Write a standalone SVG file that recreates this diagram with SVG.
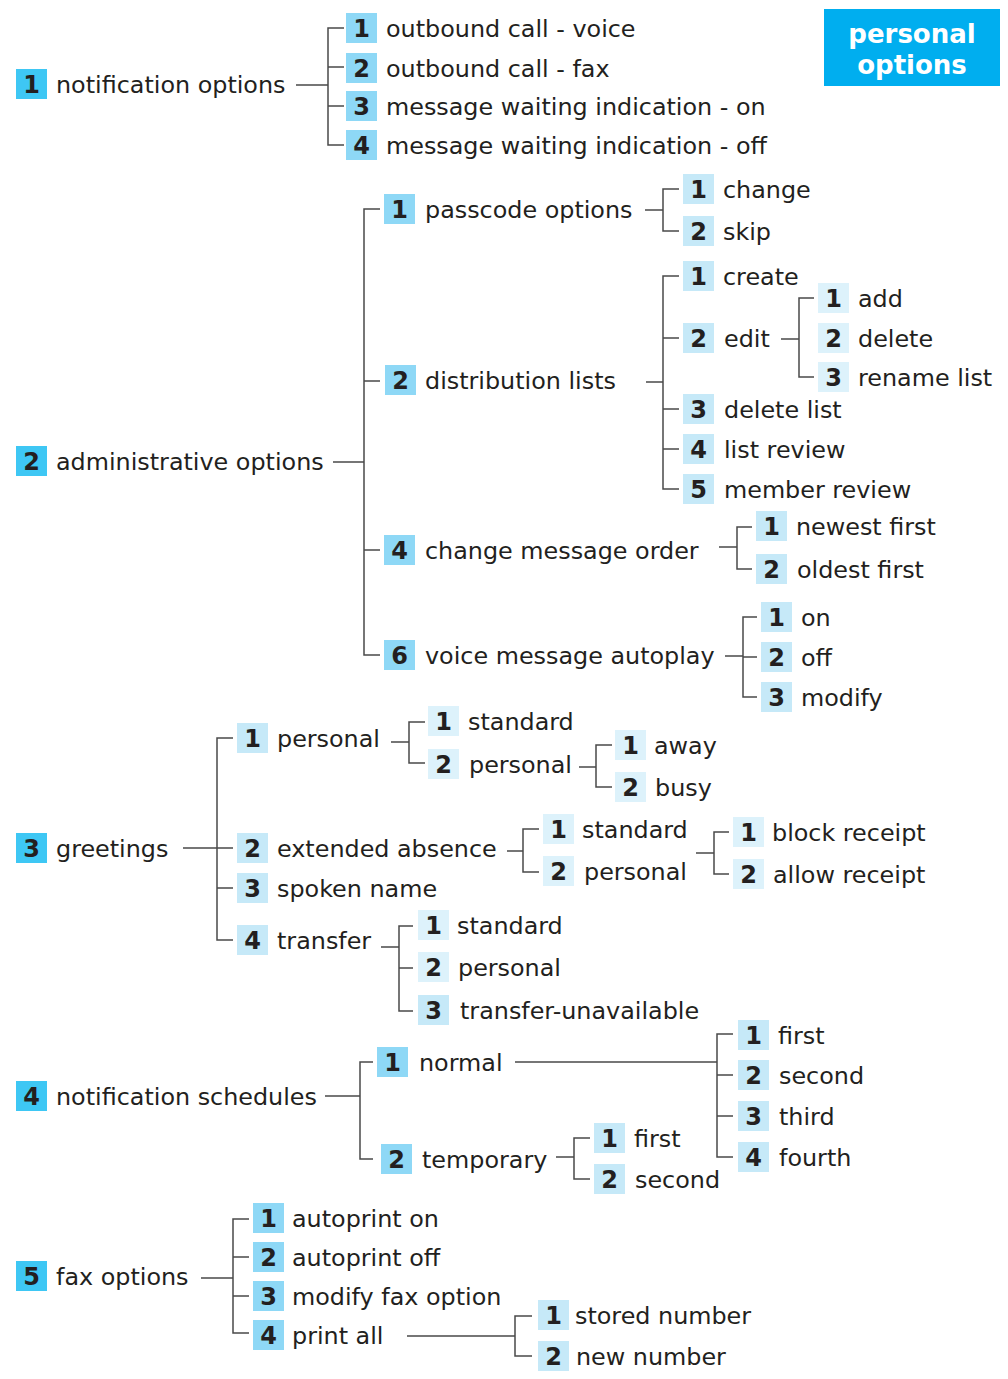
<svg xmlns="http://www.w3.org/2000/svg" width="1008" height="1379" viewBox="0 0 1008 1379">
<style>
.lbl{font-family:"DejaVu Sans","Verdana",sans-serif;font-size:23.85px;fill:#231f20}
.num{font-family:"DejaVu Sans","Verdana",sans-serif;font-size:24px;font-weight:bold;fill:#231f20;text-anchor:middle}
.b1{fill:#3ec7f4}
.b2{fill:#8ed8f6}
.b3{fill:#c6e9f8}
.b4{fill:#ddf2fb}
.conn path{fill:none;stroke:#4a4a4a;stroke-width:1.5}
.hdr{font-family:"DejaVu Sans","Verdana",sans-serif;font-size:26px;font-weight:bold;fill:#ffffff;text-anchor:middle}
</style>
<defs>
<rect id="bdg" width="31" height="30"/>
</defs>
<rect width="1008" height="1379" fill="#ffffff"/>

<g id="header">
<rect x="824" y="9" width="176" height="77" fill="#00aeef"/>
<text class="hdr" x="912" y="43">personal</text>
<text class="hdr" x="912" y="74">options</text>
</g>

<g class="conn" id="connectors">
<path d="M296 85H328M344 28H328V145H344M328 67H344M328 106H344"/>
<path d="M333 462H364M380 209H364V655H380M364 381H380M364 550H380"/>
<path d="M645 210H663M679 189H663V231H679"/>
<path d="M646 382H663M679 276H663V489H679M663 338H679M663 409H679M663 449H679"/>
<path d="M781 339H799M814 298H799V377H814"/>
<path d="M719 547H737M752 527H737V569H752"/>
<path d="M725 656H743M757 617H743V697H757M743 657H757"/>
<path d="M183 848H217M233 738H217V940H233M217 848H233M217 888H233"/>
<path d="M391 742H409M425 722H409V763H425"/>
<path d="M579 767H596M612 745H596V787H612"/>
<path d="M507 851H523M539 829H523V872H539"/>
<path d="M696 853H714M729 832H714V874H729"/>
<path d="M381 947H399M413 926H399V1011H413M399 968H413"/>
<path d="M325 1096H360M373 1062H360V1159H373"/>
<path d="M515 1062H717M733 1034H717V1157H733M717 1075H733M717 1116H733"/>
<path d="M556 1157H574M590 1138H574V1179H590"/>
<path d="M201 1278H233M249 1219H233V1333H249M233 1257H249M233 1296H249"/>
<path d="M407 1336H515M532 1316H515V1356H532"/>
</g>

<!-- root nodes -->
<g id="n1"><use href="#bdg" class="b1" x="16" y="69"/><text class="num" x="31.5" y="93">1</text><text class="lbl" x="56" y="93">notification options</text></g>
<g id="n2"><use href="#bdg" class="b1" x="16" y="446"/><text class="num" x="31.5" y="470">2</text><text class="lbl" x="56" y="470">administrative options</text></g>
<g id="n3"><use href="#bdg" class="b1" x="16" y="833"/><text class="num" x="31.5" y="857">3</text><text class="lbl" x="56" y="857">greetings</text></g>
<g id="n4"><use href="#bdg" class="b1" x="16" y="1081"/><text class="num" x="31.5" y="1105">4</text><text class="lbl" x="56" y="1105">notification schedules</text></g>
<g id="n5"><use href="#bdg" class="b1" x="16" y="1261"/><text class="num" x="31.5" y="1285">5</text><text class="lbl" x="56" y="1285">fax options</text></g>

<!-- notification options children -->
<g id="n1-1"><use href="#bdg" class="b2" x="346" y="13"/><text class="num" x="361.5" y="37">1</text><text class="lbl" x="386" y="37">outbound call - voice</text></g>
<g id="n1-2"><use href="#bdg" class="b2" x="346" y="53"/><text class="num" x="361.5" y="77">2</text><text class="lbl" x="386" y="77">outbound call - fax</text></g>
<g id="n1-3"><use href="#bdg" class="b2" x="346" y="91"/><text class="num" x="361.5" y="115">3</text><text class="lbl" x="386" y="115">message waiting indication - on</text></g>
<g id="n1-4"><use href="#bdg" class="b2" x="346" y="130"/><text class="num" x="361.5" y="154">4</text><text class="lbl" x="386" y="154">message waiting indication - off</text></g>

<!-- administrative options children -->
<g id="n2-1"><use href="#bdg" class="b2" x="384" y="194"/><text class="num" x="399.5" y="218">1</text><text class="lbl" x="425" y="218">passcode options</text></g>
<g id="n2-1-1"><use href="#bdg" class="b3" x="683" y="174"/><text class="num" x="698.5" y="198">1</text><text class="lbl" x="723" y="198">change</text></g>
<g id="n2-1-2"><use href="#bdg" class="b3" x="683" y="216"/><text class="num" x="698.5" y="240">2</text><text class="lbl" x="723" y="240">skip</text></g>

<g id="n2-2"><use href="#bdg" class="b2" x="385" y="365"/><text class="num" x="400.5" y="389">2</text><text class="lbl" x="425" y="389">distribution lists</text></g>
<g id="n2-2-1"><use href="#bdg" class="b3" x="683" y="261"/><text class="num" x="698.5" y="285">1</text><text class="lbl" x="723" y="285">create</text></g>
<g id="n2-2-2"><use href="#bdg" class="b3" x="683" y="323"/><text class="num" x="698.5" y="347">2</text><text class="lbl" x="724" y="347">edit</text></g>
<g id="n2-2-2-1"><use href="#bdg" class="b4" x="818" y="283"/><text class="num" x="833.5" y="307">1</text><text class="lbl" x="858" y="307">add</text></g>
<g id="n2-2-2-2"><use href="#bdg" class="b4" x="818" y="323"/><text class="num" x="833.5" y="347">2</text><text class="lbl" x="858" y="347">delete</text></g>
<g id="n2-2-2-3"><use href="#bdg" class="b4" x="818" y="362"/><text class="num" x="833.5" y="386">3</text><text class="lbl" x="858" y="386">rename list</text></g>
<g id="n2-2-3"><use href="#bdg" class="b3" x="683" y="394"/><text class="num" x="698.5" y="418">3</text><text class="lbl" x="724" y="418">delete list</text></g>
<g id="n2-2-4"><use href="#bdg" class="b3" x="683" y="434"/><text class="num" x="698.5" y="458">4</text><text class="lbl" x="724" y="458">list review</text></g>
<g id="n2-2-5"><use href="#bdg" class="b3" x="683" y="474"/><text class="num" x="698.5" y="498">5</text><text class="lbl" x="724" y="498">member review</text></g>

<g id="n2-4"><use href="#bdg" class="b2" x="384" y="535"/><text class="num" x="399.5" y="559">4</text><text class="lbl" x="425" y="559">change message order</text></g>
<g id="n2-4-1"><use href="#bdg" class="b3" x="756" y="511"/><text class="num" x="771.5" y="535">1</text><text class="lbl" x="796" y="535">newest first</text></g>
<g id="n2-4-2"><use href="#bdg" class="b3" x="756" y="554"/><text class="num" x="771.5" y="578">2</text><text class="lbl" x="797" y="578">oldest first</text></g>

<g id="n2-6"><use href="#bdg" class="b2" x="384" y="640"/><text class="num" x="399.5" y="664">6</text><text class="lbl" x="425" y="664">voice message autoplay</text></g>
<g id="n2-6-1"><use href="#bdg" class="b3" x="761" y="602"/><text class="num" x="776.5" y="626">1</text><text class="lbl" x="801" y="626">on</text></g>
<g id="n2-6-2"><use href="#bdg" class="b3" x="761" y="642"/><text class="num" x="776.5" y="666">2</text><text class="lbl" x="801" y="666">off</text></g>
<g id="n2-6-3"><use href="#bdg" class="b3" x="761" y="682"/><text class="num" x="776.5" y="706">3</text><text class="lbl" x="801" y="706">modify</text></g>

<!-- greetings children -->
<g id="n3-1"><use href="#bdg" class="b3" x="237" y="723"/><text class="num" x="252.5" y="747">1</text><text class="lbl" x="277" y="747">personal</text></g>
<g id="n3-1-1"><use href="#bdg" class="b4" x="428" y="706"/><text class="num" x="443.5" y="730">1</text><text class="lbl" x="468" y="730">standard</text></g>
<g id="n3-1-2"><use href="#bdg" class="b4" x="428" y="749"/><text class="num" x="443.5" y="773">2</text><text class="lbl" x="469" y="773">personal</text></g>
<g id="n3-1-2-1"><use href="#bdg" class="b4" x="615" y="730"/><text class="num" x="630.5" y="754">1</text><text class="lbl" x="654" y="754">away</text></g>
<g id="n3-1-2-2"><use href="#bdg" class="b4" x="615" y="772"/><text class="num" x="630.5" y="796">2</text><text class="lbl" x="655" y="796">busy</text></g>

<g id="n3-2"><use href="#bdg" class="b3" x="237" y="833"/><text class="num" x="252.5" y="857">2</text><text class="lbl" x="277" y="857">extended absence</text></g>
<g id="n3-2-1"><use href="#bdg" class="b4" x="543" y="814"/><text class="num" x="558.5" y="838">1</text><text class="lbl" x="582" y="838">standard</text></g>
<g id="n3-2-2"><use href="#bdg" class="b4" x="543" y="856"/><text class="num" x="558.5" y="880">2</text><text class="lbl" x="584" y="880">personal</text></g>
<g id="n3-2-2-1"><use href="#bdg" class="b4" x="733" y="817"/><text class="num" x="748.5" y="841">1</text><text class="lbl" x="772" y="841">block receipt</text></g>
<g id="n3-2-2-2"><use href="#bdg" class="b4" x="733" y="859"/><text class="num" x="748.5" y="883">2</text><text class="lbl" x="773" y="883">allow receipt</text></g>

<g id="n3-3"><use href="#bdg" class="b3" x="237" y="873"/><text class="num" x="252.5" y="897">3</text><text class="lbl" x="277" y="897">spoken name</text></g>

<g id="n3-4"><use href="#bdg" class="b3" x="237" y="925"/><text class="num" x="252.5" y="949">4</text><text class="lbl" x="277" y="949">transfer</text></g>
<g id="n3-4-1"><use href="#bdg" class="b4" x="418" y="910"/><text class="num" x="433.5" y="934">1</text><text class="lbl" x="457" y="934">standard</text></g>
<g id="n3-4-2"><use href="#bdg" class="b4" x="418" y="952"/><text class="num" x="433.5" y="976">2</text><text class="lbl" x="458" y="976">personal</text></g>
<g id="n3-4-3"><use href="#bdg" class="b3" x="418" y="995"/><text class="num" x="433.5" y="1019">3</text><text class="lbl" x="460" y="1019">transfer-unavailable</text></g>

<!-- notification schedules children -->
<g id="n4-1"><use href="#bdg" class="b2" x="377" y="1047"/><text class="num" x="392.5" y="1071">1</text><text class="lbl" x="419" y="1071">normal</text></g>
<g id="n4-1-1"><use href="#bdg" class="b3" x="738" y="1020"/><text class="num" x="753.5" y="1044">1</text><text class="lbl" x="778" y="1044">first</text></g>
<g id="n4-1-2"><use href="#bdg" class="b3" x="738" y="1060"/><text class="num" x="753.5" y="1084">2</text><text class="lbl" x="779" y="1084">second</text></g>
<g id="n4-1-3"><use href="#bdg" class="b3" x="738" y="1101"/><text class="num" x="753.5" y="1125">3</text><text class="lbl" x="779" y="1125">third</text></g>
<g id="n4-1-4"><use href="#bdg" class="b3" x="738" y="1142"/><text class="num" x="753.5" y="1166">4</text><text class="lbl" x="779" y="1166">fourth</text></g>

<g id="n4-2"><use href="#bdg" class="b2" x="381" y="1144"/><text class="num" x="396.5" y="1168">2</text><text class="lbl" x="422" y="1168">temporary</text></g>
<g id="n4-2-1"><use href="#bdg" class="b3" x="594" y="1123"/><text class="num" x="609.5" y="1147">1</text><text class="lbl" x="634" y="1147">first</text></g>
<g id="n4-2-2"><use href="#bdg" class="b3" x="594" y="1164"/><text class="num" x="609.5" y="1188">2</text><text class="lbl" x="635" y="1188">second</text></g>

<!-- fax options children -->
<g id="n5-1"><use href="#bdg" class="b2" x="253" y="1203"/><text class="num" x="268.5" y="1227">1</text><text class="lbl" x="292" y="1227">autoprint on</text></g>
<g id="n5-2"><use href="#bdg" class="b2" x="253" y="1242"/><text class="num" x="268.5" y="1266">2</text><text class="lbl" x="292" y="1266">autoprint off</text></g>
<g id="n5-3"><use href="#bdg" class="b2" x="253" y="1281"/><text class="num" x="268.5" y="1305">3</text><text class="lbl" x="292" y="1305">modify fax option</text></g>
<g id="n5-4"><use href="#bdg" class="b2" x="253" y="1320"/><text class="num" x="268.5" y="1344">4</text><text class="lbl" x="292" y="1344">print all</text></g>
<g id="n5-4-1"><use href="#bdg" class="b3" x="538" y="1300"/><text class="num" x="553.5" y="1324">1</text><text class="lbl" x="575" y="1324">stored number</text></g>
<g id="n5-4-2"><use href="#bdg" class="b3" x="538" y="1341"/><text class="num" x="553.5" y="1365">2</text><text class="lbl" x="576" y="1365">new number</text></g>
</svg>
